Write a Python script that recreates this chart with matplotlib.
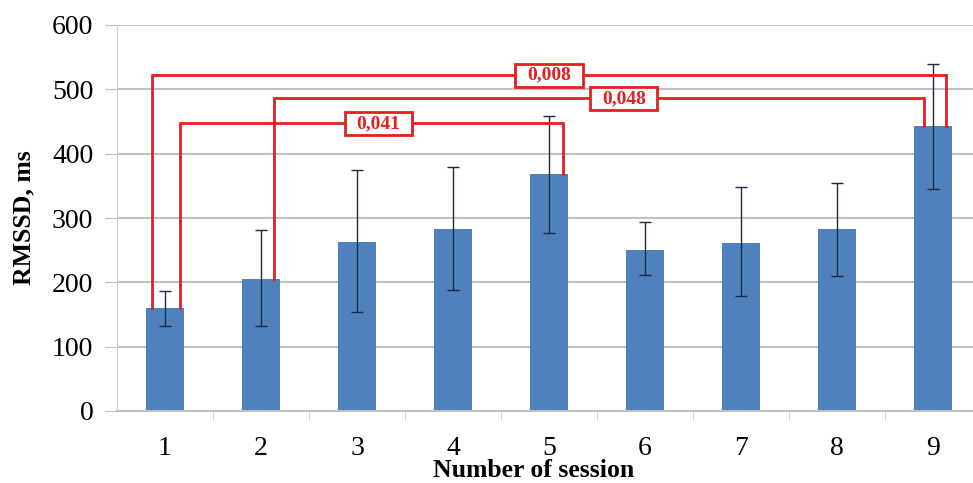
import matplotlib
matplotlib.use("Agg")
import matplotlib.pyplot as plt
from matplotlib.path import Path

# RMSSD per session (mean with lower / upper error bar ends)
sessions = ["1", "2", "3", "4", "5", "6", "7", "8", "9"]
rmssd = [160, 205, 263, 283, 368, 251, 261, 283, 443]
err_low = [132, 132, 154, 188, 276, 212, 178, 210, 345]
err_high = [187, 281, 375, 379, 459, 294, 348, 355, 540]

# significance brackets: (session a, session b, bracket level, p-value text)
bracket_pairs = [(1, 9), (2, 9), (1, 5)]
bracket_levels = [522, 486, 447]
p_values = ["0,008", "0,048", "0,041"]

plt.rcParams["font.family"] = ["Liberation Serif", "DejaVu Serif"]

RED = "#e3201f"
BLUE = "#4f81bd"
GRID = "#c0c0c0"


def wide_box(x0, y0, width, height, mutation_size):
    # label box: roomy left/right, a little less top/bottom
    px, py = 0.6 * mutation_size, 0.16 * mutation_size
    x0, y0 = x0 - px, y0 - py
    x1, y1 = x0 + width + 2 * px, y0 + height + 2 * py
    return Path([(x0, y0), (x1, y0), (x1, y1), (x0, y1), (x0, y0)], closed=True)


fig = plt.figure(figsize=(9.73, 4.83), dpi=100)
ax = fig.add_axes([117 / 973, 72 / 483, 864 / 973, 386 / 483])

xs = list(range(1, len(sessions) + 1))
lower = [m - lo for m, lo in zip(rmssd, err_low)]
upper = [hi - m for m, hi in zip(rmssd, err_high)]
ax.bar(xs, rmssd, width=0.4, color=BLUE, zorder=2)
ax.errorbar(xs, rmssd, yerr=[lower, upper], fmt="none", ecolor="#1c2a44",
            elinewidth=1, capsize=4, capthick=1, zorder=3)

# brackets from bar tops up to the level, with a boxed p-value
offsets = {(1, 9): (-0.14, 0.14), (2, 9): (0.14, -0.09), (1, 5): (0.16, 0.15)}
label_x = [5.0, 5.78, 3.22]
for (a, b), level, p, lx in zip(bracket_pairs, bracket_levels, p_values, label_x):
    da, db = offsets[(a, b)]
    xa, xb = a + da, b + db
    ax.plot([xa, xa, xb, xb], [rmssd[a - 1], level, level, rmssd[b - 1]],
            color=RED, lw=2, zorder=4, solid_joinstyle="miter")
    ax.text(lx, level, p, color=RED, fontsize=14, fontweight="bold",
            ha="center", va="center", zorder=5,
            bbox=dict(boxstyle=wide_box, fc="white", ec=RED, lw=2))

ax.set_xlim(0.5, 9.5)
ax.set_ylim(0, 600)
ax.set_yticks(range(0, 601, 100))
ax.set_xticks(xs)
ax.set_xticklabels(sessions)
ax.set_xticks([x + 0.5 for x in xs[:-1]], minor=True)
ax.tick_params(axis="x", which="major", length=0, pad=18, labelsize=20)
ax.tick_params(axis="x", which="minor", length=6, color=GRID, direction="out")
ax.tick_params(axis="y", length=9, color=GRID, pad=8, labelsize=20)
ax.yaxis.grid(True, color=GRID, lw=1.5, zorder=0)
ax.set_axisbelow(True)
for s in ("top", "right"):
    ax.spines[s].set_visible(False)
ax.spines["left"].set_color("#d0d0d0")
ax.spines["left"].set_linestyle((0, (2, 1)))
ax.spines["bottom"].set_color(GRID)
ax.spines["bottom"].set_linewidth(1.5)

ax.set_ylabel("RMSSD, ms", fontsize=18.5, fontweight="bold", labelpad=12)
fig.text(534 / 973, 1 - 477 / 483, "Number of session", fontsize=18.5,
         fontweight="bold", ha="center", va="baseline")

fig.savefig("out.png", dpi=100)
